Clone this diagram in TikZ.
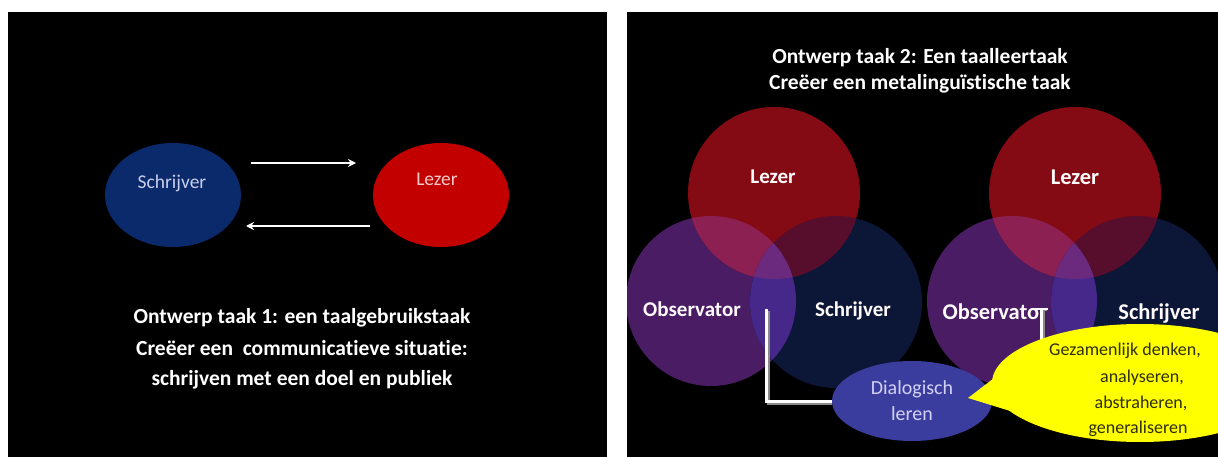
\documentclass[tikz,border=0pt]{standalone}
\usepackage{fontspec}
\setmainfont[Ligatures=NoCommon]{Carlito}
\usetikzlibrary{shapes.geometric,arrows.meta}

\definecolor{schrblue}{HTML}{0B2A6C}
\definecolor{lezred}{HTML}{C20000}
\definecolor{schrtext}{HTML}{C8CEEC}
\definecolor{leztext}{HTML}{F6CACA}
\definecolor{vL}{HTML}{840A14}
\definecolor{vO}{HTML}{4A1C64}
\definecolor{vS}{HTML}{0C1636}
\definecolor{vLO}{HTML}{8C2052}
\definecolor{vLS}{HTML}{560E2C}
\definecolor{vOS}{HTML}{46288A}
\definecolor{vLOS}{HTML}{6C2A7E}
\definecolor{dialblue}{HTML}{3B3D9E}
\definecolor{dialtext}{HTML}{D2D2F6}
\definecolor{callyellow}{HTML}{FFFF00}
\definecolor{calltext}{HTML}{2E2E08}
\definecolor{shadowgray}{HTML}{8A8A8A}

% three overlapping circles: Lezer (#1,#2), Observator (#3,#4), Schrijver (#5,#6)
\newcommand\drawvenn[6]{%
  \fill[vO] (#3,#4) circle[radius=85pt];
  \fill[vS] (#5,#6) circle[radius=86pt];
  \fill[vL] (#1,#2) circle[radius=86pt];
  \begin{scope}
    \clip (#1,#2) circle[radius=86pt];
    \fill[vLO] (#3,#4) circle[radius=85pt];
    \fill[vLS] (#5,#6) circle[radius=86pt];
  \end{scope}
  \begin{scope}
    \clip (#3,#4) circle[radius=85pt];
    \fill[vOS] (#5,#6) circle[radius=86pt];
  \end{scope}
  \begin{scope}
    \clip (#1,#2) circle[radius=86pt];
    \clip (#3,#4) circle[radius=85pt];
    \fill[vLOS] (#5,#6) circle[radius=86pt];
  \end{scope}}

\begin{document}
\begin{tikzpicture}[x=1pt,y=-1pt,
  blob/.style={ellipse,inner sep=0pt,minimum width=136pt,minimum height=104pt},
  lbl/.style={anchor=base,inner sep=0pt},
  bigtext/.style={lbl,text=white,font=\fontsize{21.5}{26}\selectfont\bfseries},
  vlabel/.style={lbl,text=white!94!pink,font=\fontsize{21}{25}\selectfont\bfseries},
  vlabelR/.style={lbl,text=white!94!pink,font=\fontsize{22.5}{27}\selectfont\bfseries},
  calltxt/.style={lbl,text=calltext,font=\fontsize{18}{22}\selectfont},
  flowarrow/.style={draw=white,line width=2.5pt,-{Stealth[length=8pt,width=8pt]}},
  link/.style={draw=white,line width=3pt},
  linkshadow/.style={draw=shadowgray,line width=3pt}]

\useasboundingbox (0,0) rectangle (1218,457);
\fill[white] (0,0) rectangle (1218,457);
\fill[black] (8,12) rectangle (607,457);
\fill[black] (627,12) rectangle (1218,457);

% ---------- left slide: writer and reader ----------
\node[blob,fill=schrblue] (schr) at (173,195) {};
\node[blob,fill=lezred] (lez) at (441,195) {};
\node[lbl,text=schrtext,font=\fontsize{19.5}{23}\selectfont] (schrlbl) at (172,189) {Schrijver};
\node[lbl,text=leztext,font=\fontsize{19.5}{23}\selectfont] (lezlbl) at (437,186) {Lezer};

\coordinate (toS) at (251,163);
\coordinate (toE) at (356,163);
\coordinate (backS) at (370,226);
\coordinate (backE) at (246,226);
\draw[flowarrow] (toS) -- (toE);
\draw[flowarrow] (backS) -- (backE);

\node[bigtext] (taskA1) at (302,323.5) {Ontwerp taak 1: een taalgebruikstaak};
\node[bigtext] (taskA2) at (302,355) {Creëer een\ \ communicatieve situatie:};
\node[bigtext] (taskA3) at (302,385.5) {schrijven met een doel en publiek};

% ---------- right slide: metalinguistic task ----------
\node[bigtext] (taskB1) at (920,63.5) {Ontwerp taak 2: Een taalleertaak};
\node[bigtext] (taskB2) at (920,89.5) {Creëer een metalinguïstische taak};

\begin{scope}
  \clip (627,12) rectangle (1218,457);
  \drawvenn{774}{193}{711}{301}{836}{302}
  \drawvenn{1075}{193}{1012}{301}{1137}{302}
\end{scope}

\node[vlabel] (lezA) at (773,184) {Lezer};
\node[vlabel] (obsA) at (692,316) {Observator};
\node[vlabel] (schrA) at (853,316) {Schrijver};
\node[vlabelR] (lezB) at (1075,185) {Lezer};
\node[vlabelR] (obsB) at (995,319) {Observator};
\node[vlabelR] (schrB) at (1159,319) {Schrijver};

% dialogue bubble and its link from the observer
\node[ellipse,fill=dialblue,inner sep=0pt,minimum width=160pt,minimum height=80pt,
      text=dialtext,align=center,font=\fontsize{20}{26}\selectfont] (dia) at (912,401)
      {Dialogisch\\leren};

\coordinate (linkA) at (766,309);
\draw[linkshadow] ([shift={(2,2)}]linkA) |- ([shift={(0,2)}]dia.west);
\draw[link] (linkA) |- (dia.west);

% link from the second observer, running under the callout
\coordinate (linkB) at (1041,309);
\coordinate (linkBend) at (1041,360);
\coordinate (barL) at (1035,309);
\coordinate (barR) at (1048,309);
\draw[linkshadow] ([shift={(2,1)}]linkB) -- ([shift={(2,0)}]linkBend);
\draw[link] (linkB) -- (linkBend);
\draw[draw=white,line width=2.5pt] (barL) -- (barR);

% speech callout
\fill[callyellow] (1140,383) ellipse[x radius=148pt,y radius=59pt];
\fill[callyellow] (968,398) -- (1015,362) -- (1020,414) -- cycle;
\node[calltxt] (c1) at (1125,355) {Gezamenlijk denken,};
\node[calltxt] (c2) at (1142,382) {analyseren,};
\node[calltxt] (c3) at (1141,408) {abstraheren,};
\node[calltxt] (c4) at (1138,433) {generaliseren};
\end{tikzpicture}
\end{document}
